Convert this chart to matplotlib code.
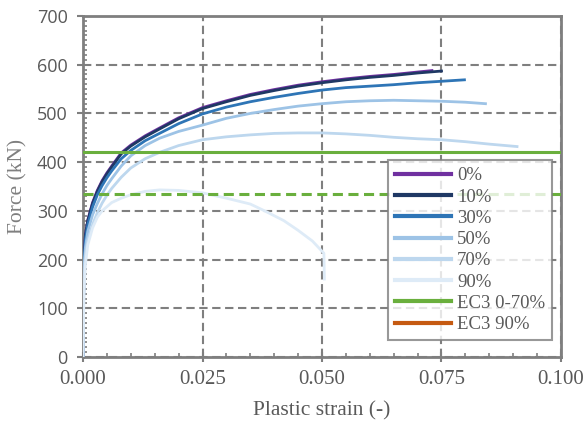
import numpy as np
import matplotlib
matplotlib.use("Agg")
import matplotlib.pyplot as plt
from matplotlib.ticker import MultipleLocator

# curve data (strain [-], force [kN])
strain_0 = [0, 0.0002, 0.0005, 0.001, 0.002, 0.003, 0.004, 0.005, 0.006, 0.008, 0.010,
            0.013, 0.016, 0.020, 0.025, 0.030, 0.035, 0.040, 0.045, 0.050, 0.055,
            0.060, 0.065, 0.070, 0.073]
force_0 = [0, 200, 250, 281, 317, 342, 362, 378, 392, 419, 435, 454, 470, 491, 512,
           526, 539, 549, 558, 565, 571, 576, 580, 585, 588]

strain_10 = [0, 0.0002, 0.0005, 0.001, 0.002, 0.003, 0.004, 0.005, 0.006, 0.008, 0.010,
             0.013, 0.016, 0.020, 0.025, 0.030, 0.035, 0.040, 0.045, 0.050, 0.055,
             0.060, 0.065, 0.070, 0.075]
force_10 = [0, 200, 250, 280, 315, 340, 360, 376, 390, 417, 433, 452, 468, 489, 510,
            524, 537, 547, 556, 563, 569, 574, 578, 583, 587]

strain_30 = [0, 0.0002, 0.0005, 0.001, 0.002, 0.003, 0.004, 0.005, 0.006, 0.008, 0.010,
             0.013, 0.016, 0.020, 0.025, 0.030, 0.035, 0.040, 0.045, 0.050, 0.055,
             0.060, 0.065, 0.070, 0.075, 0.0798]
force_30 = [0, 190, 240, 272, 308, 333, 352, 368, 382, 407, 424, 444, 459, 479, 499,
            513, 524, 533, 541, 548, 553, 556, 559, 563, 566, 569]

strain_50 = [0, 0.0002, 0.0005, 0.001, 0.002, 0.003, 0.004, 0.005, 0.006, 0.008, 0.010,
             0.013, 0.016, 0.020, 0.025, 0.030, 0.035, 0.040, 0.045, 0.050, 0.055,
             0.060, 0.065, 0.070, 0.075, 0.080, 0.0842]
force_50 = [0, 180, 225, 258, 292, 315, 335, 352, 366, 392, 413, 434, 449, 463, 476,
            490, 500, 508, 515, 520, 524, 526, 527, 526, 525, 523, 520]

strain_70 = [0, 0.0002, 0.0005, 0.001, 0.002, 0.003, 0.004, 0.005, 0.006, 0.008, 0.010,
             0.013, 0.016, 0.020, 0.025, 0.030, 0.035, 0.040, 0.045, 0.050, 0.055,
             0.060, 0.065, 0.070, 0.075, 0.080, 0.085, 0.0908]
force_70 = [0, 160, 210, 240, 272, 296, 316, 332, 346, 369, 388, 407, 420, 434, 446,
            452, 456, 459, 460, 460, 458, 455, 451, 448, 446, 442, 437, 432]

strain_90 = [0, 0.0002, 0.0005, 0.001, 0.002, 0.003, 0.004, 0.006, 0.008, 0.010, 0.013,
             0.016, 0.020, 0.025, 0.030, 0.035, 0.038, 0.042, 0.045, 0.048, 0.0504, 0.0505]
force_90 = [0, 130, 190, 230, 265, 287, 300, 317, 326, 333, 340, 343, 342, 337, 326,
            314, 300, 280, 260, 238, 213, 160]

ec3_strain = [0.0, 0.1]
ec3_0_70 = 420
ec3_90 = 335

curves = [
    ("0%", strain_0, force_0, "#7030A0"),
    ("10%", strain_10, force_10, "#1F3864"),
    ("30%", strain_30, force_30, "#2E75B6"),
    ("50%", strain_50, force_50, "#9DC3E6"),
    ("70%", strain_70, force_70, "#BDD7EE"),
    ("90%", strain_90, force_90, "#DEEBF7"),
]

plt.rcParams["font.family"] = ["Liberation Serif", "DejaVu Serif"]
grey = "#7F7F7F"
txt = "#595959"
sans = ["Open Sans", "DejaVu Sans"]

fig = plt.figure(figsize=(5.87, 4.28), dpi=100)
ax = fig.add_axes([0.1414, 0.1659, 0.8143, 0.7967])

for label, xs, ys, col in curves:
    ax.plot(xs, ys, color=col, lw=2.0, label=label, zorder=3)

ax.plot(ec3_strain, [ec3_0_70, ec3_0_70], color="#6AAF3D", lw=2.2,
        label="EC3 0-70%", zorder=4)
ax.plot(ec3_strain, [ec3_90, ec3_90], color="#6AAF3D", lw=2.2,
        dashes=(3.3, 1.8), zorder=4)
# EC3 90% only appears in the legend
ax.plot([], [], color="#C55A11", lw=2.2, label="EC3 90%")

ax.set_xlim(0, 0.1)
ax.set_ylim(0, 700)
ax.xaxis.set_major_locator(MultipleLocator(0.025))
ax.xaxis.set_minor_locator(MultipleLocator(0.005))
ax.yaxis.set_major_locator(MultipleLocator(100))
ax.yaxis.set_minor_locator(MultipleLocator(10))
ax.xaxis.set_major_formatter(lambda v, p: f"{v:.3f}")

ax.grid(True, which="major", color=grey, lw=1.5, dashes=(4, 2.2), zorder=1)
ax.set_axisbelow(True)

for s in ax.spines.values():
    s.set_color(grey)
    s.set_linewidth(2)

ax.tick_params(which="major", direction="inout", length=7, width=1.5,
               color=grey, labelcolor=txt)
ax.tick_params(axis="x", which="major", pad=6, labelsize=15)
ax.tick_params(axis="y", which="major", direction="out", length=4, pad=7,
               labelsize=13)
ax.tick_params(which="minor", direction="in", length=3, width=1.2, color=grey)
for lab in ax.get_yticklabels():
    lab.set_family(sans)

ax.set_xlabel("Plastic strain (-)", fontsize=15.5, color=txt, labelpad=9)
ax.set_ylabel("Force (kN)", fontsize=15.5, color=grey)
ax.yaxis.set_label_coords(-0.117, 0.5)

leg = ax.legend(loc="upper left", bbox_to_anchor=(0.638, 0.577), fontsize=13.5,
                frameon=True, fancybox=False, handlelength=3.0,
                handletextpad=0.3, labelspacing=0.22, borderpad=0.38,
                borderaxespad=0)
leg.get_frame().set_edgecolor(grey)
leg.get_frame().set_linewidth(1.5)
for t in leg.get_texts():
    t.set_color(txt)
for h in leg.get_lines():
    h.set_linewidth(3)
leg.set_zorder(5)

fig.savefig("out.png", dpi=100)
